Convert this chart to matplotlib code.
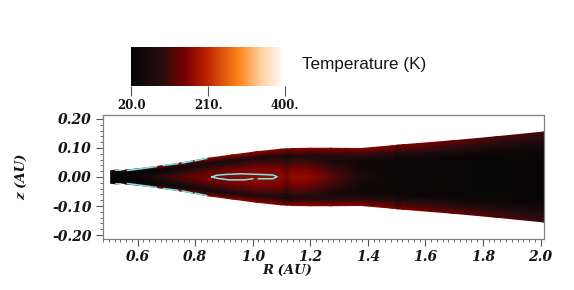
#!/usr/bin/env python3

import numpy as np
import matplotlib
matplotlib.use("Agg")
import matplotlib.pyplot as plt
from matplotlib.colors import LinearSegmentedColormap
from matplotlib.ticker import MultipleLocator, FormatStrFormatter

T_MIN = 20.0
T_MAX = 400.0

# disk surface
radius = [0.507, 0.53, 0.545, 0.56, 0.60, 0.667, 0.75, 0.84, 0.93, 1.014, 1.10, 1.118, 1.14, 1.20,
          1.27, 1.375, 1.49, 1.505, 1.52, 1.697, 1.85, 2.012]
height = [0.022, 0.024, 0.020, 0.024, 0.028, 0.036, 0.048, 0.064, 0.076, 0.087, 0.096, 0.097, 0.098, 0.099,
          0.099, 0.098, 0.108, 0.110, 0.111, 0.125, 0.139, 0.155]

# fraction of the local height, midplane to surface
height_frac = [0.0, 0.3, 0.55, 0.75, 0.9, 1.0]

# temperature (K), one row per radius, one column per height fraction
temperature = [
    [28, 26, 25, 32, 95, 145],
    [28, 26, 25, 32, 100, 150],
    [26, 25, 25, 30, 80, 120],
    [28, 26, 25, 34, 105, 155],
    [34, 30, 28, 40, 115, 160],
    [80, 55, 34, 48, 125, 165],
    [130, 100, 55, 52, 128, 165],
    [155, 135, 85, 58, 130, 165],
    [168, 155, 110, 62, 132, 165],
    [175, 162, 122, 70, 135, 165],
    [172, 155, 112, 70, 135, 165],
    [150, 132, 92, 58, 115, 150],
    [175, 155, 110, 72, 135, 165],
    [170, 148, 102, 75, 135, 165],
    [135, 108, 68, 78, 135, 165],
    [68, 50, 42, 88, 135, 162],
    [36, 34, 38, 92, 135, 160],
    [28, 28, 32, 70, 110, 140],
    [36, 34, 38, 92, 132, 158],
    [28, 28, 34, 80, 120, 142],
    [25, 25, 32, 70, 105, 128],
    [24, 24, 30, 62, 92, 112],
]

# cyan contour pieces
edge_r = [0.525, 0.54, np.nan, 0.565, 0.63, 0.665, np.nan, 0.69, 0.74, np.nan, 0.755, 0.79, np.nan, 0.80, 0.84]
edge_z = [0.0235, 0.0235, np.nan, 0.0225, 0.031, 0.036, np.nan, 0.040, 0.046, np.nan, 0.048, 0.055, np.nan, 0.056, 0.064]
loop_r = [0.858, 0.875, 0.91, 0.96, 1.02, 1.07, 1.085, 1.07, 1.02, np.nan, 1.0, 0.97, 0.92, 0.88, 0.858]
loop_z = [0.0, 0.006, 0.009, 0.011, 0.009, 0.007, 0.001, -0.006, -0.006, np.nan, -0.006, -0.010, -0.010, -0.005, 0.0]

cbar_ticks = [20.0, 210.0, 400.0]
cbar_labels = ["20.0", "210.", "400."]

heat = LinearSegmentedColormap.from_list(
    "heat",
    [
        (0.0, (0.02, 0.02, 0.02)),
        (0.2, (0.16, 0.05, 0.06)),
        (0.35, (0.47, 0.0, 0.0)),
        (0.5, (0.75, 0.15, 0.0)),
        (0.7, (1.0, 0.52, 0.1)),
        (0.85, (1.0, 0.82, 0.65)),
        (1.0, (1.0, 1.0, 1.0)),
    ],
)

W, H = 574.0, 290.0


def px_axes(fig, left, top, right, bottom):
    return fig.add_axes([left / W, 1 - bottom / H, (right - left) / W, (bottom - top) / H])


fig = plt.figure(figsize=(5.74, 2.9), dpi=100)

# === main panel ===
ax = px_axes(fig, 103, 115.3, 544, 238.7)

frac = np.array(height_frac)
frac_full = np.concatenate([-frac[:0:-1], frac])
temps = np.array(temperature, dtype=float)
temps_full = np.hstack([temps[:, :0:-1], temps])
rr = np.array(radius)[:, None] * np.ones(len(frac_full))
zz = np.array(height)[:, None] * frac_full

ax.pcolormesh(rr, zz, temps_full, cmap=heat, vmin=T_MIN, vmax=T_MAX, shading="gouraud", rasterized=True)

cyan = (0.45, 0.92, 0.92)
ax.plot(edge_r, edge_z, color=cyan, lw=1.1)
ax.plot(edge_r, -np.array(edge_z), color=cyan, lw=1.1)
ax.plot(loop_r, loop_z, color=cyan, lw=1.1)

ax.set_xlim(0.48, 2.012)
ax.set_ylim(-0.2125, 0.2125)

ax.xaxis.set_major_locator(MultipleLocator(0.2))
ax.xaxis.set_minor_locator(MultipleLocator(0.02))
ax.yaxis.set_major_locator(MultipleLocator(0.1))
ax.yaxis.set_minor_locator(MultipleLocator(0.02))
ax.xaxis.set_major_formatter(FormatStrFormatter("%.1f"))
ax.yaxis.set_major_formatter(FormatStrFormatter("%.2f"))

for spine in ax.spines.values():
    spine.set_color("#808080")
    spine.set_linewidth(0.9)

ax.tick_params(which="major", length=5, width=0.8, color="#555555", pad=3)
ax.tick_params(which="minor", length=2.5, width=0.6, color="#555555")

label_font = dict(family="DejaVu Serif", weight="bold", style="italic")
for lab in ax.get_xticklabels() + ax.get_yticklabels():
    lab.set(fontsize=10, color="#151515", **label_font)

fig.text(287 / W, 1 - 270.5 / H, "R (AU)", ha="center", va="center", fontsize=9.5, color="#151515", **label_font)
fig.text(22 / W, 1 - 177 / H, "z (AU)", ha="center", va="center", rotation=90, fontsize=9.5, color="#151515", **label_font)

# === colour bar ===
cax = px_axes(fig, 131.3, 47.3, 285, 86)
cax.imshow(np.linspace(T_MIN, T_MAX, 256)[None, :], cmap=heat, vmin=T_MIN, vmax=T_MAX, aspect="auto",
           extent=[T_MIN, T_MAX, 0, 1])
cax.set_yticks([])
cax.set_xticks(cbar_ticks)
cax.set_xticklabels(cbar_labels, family="DejaVu Serif", weight="bold", fontsize=8.5, color="#151515")
cax.tick_params(axis="x", length=7, width=0.8, color="#555555", pad=2.5)
for spine in cax.spines.values():
    spine.set_visible(False)

fig.text(302.5 / W, 1 - 65 / H, "Temperature (K)", ha="left", va="center", family="Liberation Sans", fontsize=12.3, color="#151515")

fig.savefig("out.png", dpi=100)
